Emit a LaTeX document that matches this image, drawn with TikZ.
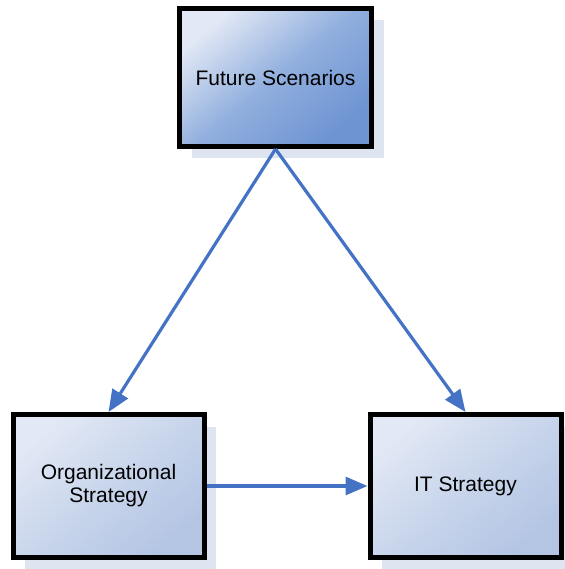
\documentclass[tikz,border=0pt]{standalone}
\usepackage{fontspec}
\setmainfont{Liberation Sans}
\usetikzlibrary{arrows.meta,shadows}
\definecolor{darkfill}{RGB}{110,148,210}
\definecolor{midfill}{RGB}{145,175,222}
\definecolor{lightfill}{RGB}{226,232,245}
\definecolor{palefill}{RGB}{180,197,228}
\definecolor{palemid}{RGB}{200,213,235}
\definecolor{shadowc}{RGB}{222,228,240}
\definecolor{arrowc}{RGB}{68,114,196}
\tikzset{
  boxbase/.style={rectangle, draw=black, line width=5pt, align=center,
    font=\fontsize{21}{25}\selectfont,
    drop shadow={shadow xshift=12pt, shadow yshift=-12pt, fill=shadowc, opacity=1}},
  topbox/.style={boxbase, top color=lightfill, bottom color=darkfill, middle color=midfill, shading angle=40,
    minimum width=192pt, minimum height=138pt},
  lowbox/.style={boxbase, top color=lightfill, bottom color=palefill, middle color=palemid, shading angle=40,
    minimum width=191pt, minimum height=143pt},
  conn/.style={draw=arrowc, line width=3.2pt, -{Triangle[length=22pt,width=18pt]}}
}
\begin{document}
\begin{tikzpicture}[x=1pt,y=-1pt]
\useasboundingbox (0,0) rectangle (564,569);
\node[topbox] (fs) at (275.5,77.5) {Future Scenarios};
\node[lowbox] (os) at (108.5,486) {Organizational\\[-2pt]Strategy};
\node[lowbox] (it) at (465.5,486) {IT Strategy};
\draw[conn] (fs.south) -- (os.north);
\draw[conn] (fs.south) -- (it.north);
\draw[conn] (os.east) -- (it.west);
\end{tikzpicture}
\end{document}
